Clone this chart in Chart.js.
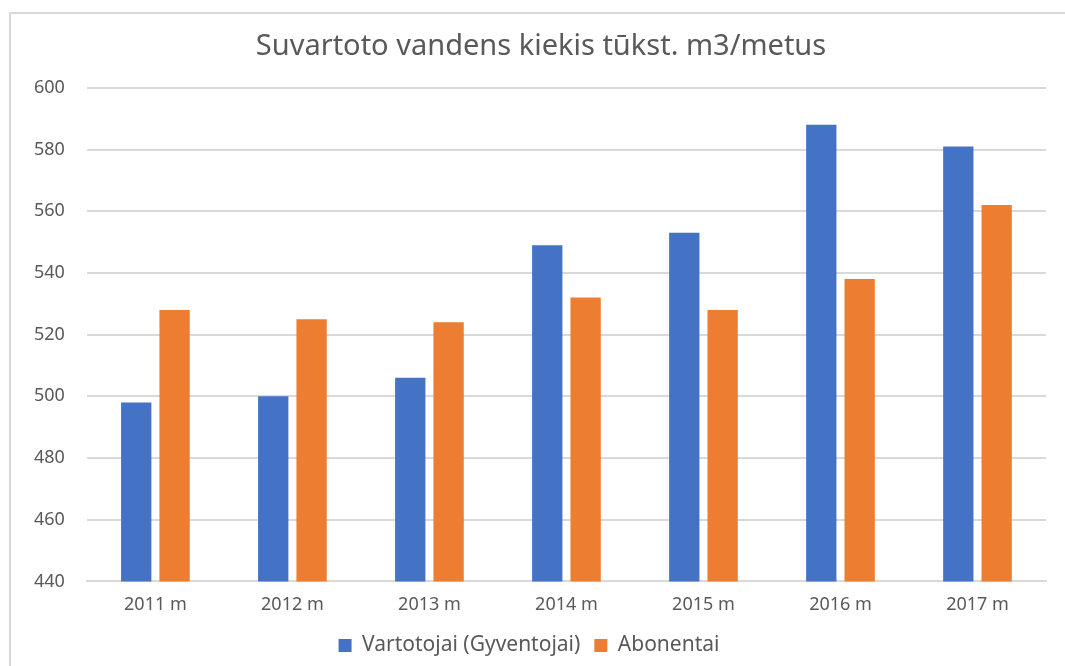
<!DOCTYPE html>
<html>
<head>
<meta charset="utf-8">
<script src="https://cdn.jsdelivr.net/npm/chart.js@4"></script>
<style>
  body { margin: 0; background: #fff; }
</style>
</head>
<body>
<canvas id="bar" width="1065" height="666"></canvas>
<script>
const years = ['2011 m', '2012 m', '2013 m', '2014 m', '2015 m', '2016 m', '2017 m'];
const vartotojai = [498, 500, 506, 549, 553, 588, 581];
const abonentai = [528, 525, 524, 532, 528, 538, 562];
const yTicks = [440, 460, 480, 500, 520, 540, 560, 580, 600];

const fontName = 'Noto Sans';

// grey frame on the left and top edge, title nudged right
const frame = {
    id: 'frame',
    afterLayout(chart) {
        if (chart.titleBlock) chart.titleBlock.left += 24;
    },
    beforeDraw(chart) {
        const c = chart.ctx;
        c.save();
        c.strokeStyle = '#d9d9d9';
        c.lineWidth = 2;
        c.beginPath();
        c.moveTo(10, 666);
        c.lineTo(10, 13);
        c.lineTo(1065, 13);
        c.stroke();
        c.restore();
    }
};

const ctx = document.getElementById('bar').getContext('2d');

new Chart(ctx, {
    type: 'bar',
    data: {
        labels: years,
        datasets: [{
            label: 'Vartotojai (Gyventojai)',
            data: vartotojai,
            backgroundColor: '#4472c4'
        }, {
            label: 'Abonentai',
            data: abonentai,
            backgroundColor: '#ed7d31'
        }]
    },
    options: {
        responsive: false,
        animation: false,
        devicePixelRatio: 1,
        categoryPercentage: 0.56,
        barPercentage: 0.79,
        layout: { padding: { left: 12, right: 19, top: 16, bottom: 0 } },
        plugins: {
            title: {
                display: true,
                text: 'Suvartoto vandens kiekis tūkst. m3/metus',
                color: '#595959',
                font: { family: fontName, size: 29, weight: 'normal' },
                padding: { top: 13, bottom: 24 }
            },
            legend: {
                position: 'bottom',
                labels: {
                    color: '#595959',
                    font: { family: fontName, size: 21 },
                    boxWidth: 13,
                    boxHeight: 13,
                    padding: 14
                }
            },
            tooltip: { enabled: false }
        },
        scales: {
            x: {
                grid: { display: false },
                border: { color: '#d9d9d9', width: 2 },
                ticks: { color: '#595959', font: { family: fontName, size: 18 }, padding: 5, maxRotation: 0 }
            },
            y: {
                min: 440,
                max: 600,
                afterBuildTicks(axis) { axis.ticks = yTicks.map(v => ({ value: v })); },
                grid: { color: '#d9d9d9', lineWidth: 2, drawTicks: false },
                border: { display: false },
                ticks: { color: '#595959', font: { family: fontName, size: 18 }, padding: 22 }
            }
        }
    },
    plugins: [frame]
});
</script>
</body>
</html>
